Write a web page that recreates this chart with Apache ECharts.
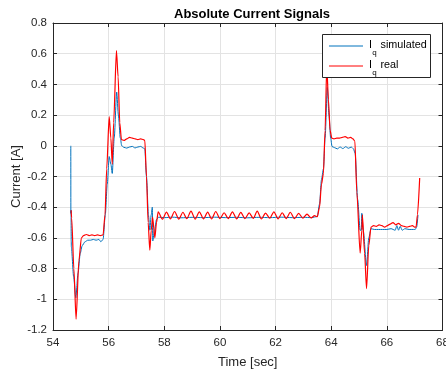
<!DOCTYPE html>
<html>
<head>
<meta charset="utf-8">
<script src="https://cdn.jsdelivr.net/npm/echarts@6/dist/echarts.min.js"></script>
<style>
html,body{margin:0;padding:0;background:#fff;}
#chart{width:446px;height:374px;}
</style>
</head>
<body>
<div id="chart"></div>
<script>
// ---- Data ----
const titleText = 'Absolute Current Signals';
const xName = 'Time [sec]';
const yName = 'Current [A]';
const xTicks = [54, 56, 58, 60, 62, 64, 66, 68];
const yTicks = [-1.2, -1, -0.8, -0.6, -0.4, -0.2, 0, 0.2, 0.4, 0.6, 0.8];

// I_q simulated
const tSim = [
  54.64, 54.642, 54.648, 54.655, 54.66, 54.74, 54.82, 54.9, 54.98, 55.05, 55.15, 55.25, 55.35, 55.45, 55.55, 55.65, 55.72, 55.8,
  55.88, 55.95, 56.02, 56.08, 56.13, 56.2, 56.29, 56.35, 56.42, 56.47, 56.55, 56.65, 56.75, 56.85, 56.95, 57.05, 57.15, 57.25, 57.3,
  57.36, 57.43, 57.48, 57.53, 57.57, 57.585, 57.65, 57.72, 57.8, 58.0, 58.3, 58.6, 59.0, 59.4, 59.8, 60.2, 60.6, 61.0, 61.4, 61.8,
  62.2, 62.6, 63.0, 63.3, 63.5, 63.58, 63.65, 63.72, 63.78, 63.86, 63.92, 63.98, 64.03, 64.12, 64.22, 64.32, 64.42, 64.52, 64.62,
  64.72, 64.8, 64.86, 64.95, 65.04, 65.08, 65.1, 65.15, 65.27, 65.35, 65.43, 65.55, 65.7, 65.85, 66.0, 66.15, 66.3, 66.36, 66.42,
  66.48, 66.55, 66.65, 66.8, 66.95, 67.02, 67.07, 67.12
];
const iqSim = [
  0.0, -0.44, -0.42, -0.62, -0.66, -0.85, -0.99, -0.83, -0.70, -0.65, -0.625, -0.615, -0.615, -0.61, -0.615, -0.61, -0.625, -0.61,
  -0.45, -0.25, -0.07, -0.12, -0.18, 0.05, 0.35, 0.2, 0.05, 0.0, -0.01, -0.015, -0.008, -0.004, -0.014, -0.008, -0.004, -0.015, -0.02,
  -0.2, -0.45, -0.55, -0.45, -0.40, -0.62, -0.55, -0.48, -0.465, -0.468, -0.465, -0.469, -0.466, -0.468, -0.465, -0.468, -0.466, -0.469, -0.466, -0.468,
  -0.465, -0.468, -0.466, -0.468, -0.46, -0.38, -0.22, -0.15, 0.05, 0.38, 0.2, 0.05, -0.005, -0.012, -0.02, -0.008, -0.018, -0.006, -0.016,
  -0.008, -0.02, -0.05, -0.35, -0.55, -0.55, -0.44, -0.55, -0.78, -0.6, -0.54, -0.545, -0.545, -0.545, -0.545, -0.54, -0.55, -0.52, -0.55,
  -0.525, -0.55, -0.54, -0.545, -0.545, -0.545, -0.53, -0.45
];

// I_q real
const tReal = [
  54.65, 54.67, 54.75, 54.83, 54.93, 55.02, 55.1, 55.2, 55.3, 55.4, 55.5, 55.6, 55.7, 55.8, 55.87, 55.93, 56.02, 56.08, 56.13, 56.18,
  56.28, 56.34, 56.4, 56.46, 56.55, 56.65, 56.75, 56.85, 56.95, 57.05, 57.15, 57.25, 57.3, 57.36, 57.42, 57.48, 57.53, 57.58, 57.66, 57.72,
  57.78, 57.93, 58.08, 58.22, 58.37, 58.52, 58.67, 58.81, 58.96, 59.11, 59.26, 59.41, 59.56, 59.70, 59.85, 60.00, 60.15, 60.30, 60.45, 60.60,
  60.75, 60.90, 61.05, 61.20, 61.34, 61.49, 61.64, 61.79, 61.94, 62.09, 62.24, 62.38, 62.53, 62.68, 62.83, 62.98, 63.13, 63.28, 63.40, 63.50,
  63.58, 63.65, 63.72, 63.78, 63.84, 63.9, 63.96, 64.02, 64.1, 64.2, 64.3, 64.4, 64.5, 64.6, 64.7, 64.78, 64.85, 64.92, 65.04, 65.1,
  65.12, 65.2, 65.27, 65.35, 65.43, 65.52, 65.62, 65.72, 65.82, 65.92, 66.02, 66.12, 66.22, 66.32, 66.42, 66.52, 66.62, 66.72, 66.82, 66.92,
  67.0, 67.05, 67.1, 67.18
];
const iqReal = [
  -0.42, -0.47, -0.8, -1.13, -0.75, -0.60, -0.585, -0.578, -0.585, -0.58, -0.585, -0.58, -0.585, -0.58, -0.45, -0.15, 0.19, 0.05, -0.12, 0.15,
  0.62, 0.45, 0.15, 0.04, 0.035, 0.045, 0.055, 0.05, 0.045, 0.04, 0.045, 0.04, 0.035, -0.2, -0.5, -0.68, -0.55, -0.465, -0.60, -0.50,
  -0.43, -0.478, -0.432, -0.476, -0.428, -0.478, -0.433, -0.475, -0.425, -0.478, -0.43, -0.476, -0.432, -0.477, -0.428, -0.475, -0.436, -0.474, -0.43, -0.476,
  -0.434, -0.475, -0.437, -0.473, -0.425, -0.477, -0.438, -0.472, -0.43, -0.476, -0.436, -0.474, -0.433, -0.475, -0.44, -0.472, -0.445, -0.47, -0.455, -0.462,
  -0.40, -0.25, -0.18, 0.1, 0.52, 0.3, 0.1, 0.05, 0.045, 0.05, 0.05, 0.055, 0.06, 0.05, 0.055, 0.045, 0.03, -0.3, -0.70, -0.55,
  -0.45, -0.7, -0.93, -0.65, -0.53, -0.52, -0.525, -0.515, -0.52, -0.53, -0.52, -0.51, -0.5, -0.515, -0.505, -0.52, -0.525, -0.53, -0.525, -0.52,
  -0.53, -0.53, -0.45, -0.21
];

const simData = tSim.map((t, i) => [t, iqSim[i]]);
const realData = tReal.map((t, i) => [t, iqReal[i]]);

const FONT = '"Liberation Sans", Arial, Helvetica, sans-serif';
const AX = '#262626';
const GRID = '#e3e3e3';
const fmt = v => String(+(+v).toFixed(1));

const chart = echarts.init(document.getElementById('chart'), null, {renderer: 'canvas'});
const xBase = {
  type: 'value', min: xTicks[0], max: xTicks[xTicks.length - 1], interval: 2,
  axisLine: {show: true, onZero: false, lineStyle: {color: AX, width: 1}},
  axisTick: {show: true, inside: true, length: 4, lineStyle: {color: AX}},
};
const yBase = {
  type: 'value', min: yTicks[0], max: yTicks[yTicks.length - 1], interval: 0.2,
  axisLine: {show: true, onZero: false, lineStyle: {color: AX, width: 1}},
  axisTick: {show: true, inside: true, length: 4, lineStyle: {color: AX}},
};
chart.setOption({
  animation: false,
  backgroundColor: '#fff',
  title: {
    text: titleText, left: 247, top: 3, textAlign: 'center',
    textStyle: {fontFamily: FONT, fontSize: 13, fontWeight: 'bold', color: '#000'}
  },
  grid: {left: 53, top: 23, width: 389.5, height: 307, containLabel: false, outerBoundsMode: 'none'},
  xAxis: [
    Object.assign({}, xBase, {
      position: 'bottom',
      axisLabel: {show: true, margin: 7, color: AX, fontFamily: FONT, fontSize: 11.5, formatter: fmt, showMinLabel: true, showMaxLabel: true},
      splitLine: {show: true, lineStyle: {color: GRID, width: 1}},
      name: xName, nameLocation: 'middle', nameGap: 26,
      nameTextStyle: {fontFamily: FONT, fontSize: 13, color: AX}
    }),
    Object.assign({}, xBase, {
      position: 'top',
      axisLabel: {show: false}, splitLine: {show: false}
    })
  ],
  yAxis: [
    Object.assign({}, yBase, {
      position: 'left',
      axisLabel: {show: true, margin: 6, color: AX, fontFamily: FONT, fontSize: 11.5, formatter: fmt, showMinLabel: true, showMaxLabel: true},
      splitLine: {show: true, lineStyle: {color: GRID, width: 1}},
      name: yName, nameLocation: 'middle', nameGap: 30, nameRotate: 90, nameMoveOverlap: false,
      nameTextStyle: {fontFamily: FONT, fontSize: 13, color: AX}
    }),
    Object.assign({}, yBase, {
      position: 'right',
      axisLabel: {show: false}, splitLine: {show: false}
    })
  ],
  series: [
    {
      name: 'Iq simulated', type: 'line', data: simData, xAxisIndex: 0, yAxisIndex: 0,
      showSymbol: false, symbol: 'none', clip: true, smooth: 0.25, smoothMonotone: 'x',
      lineStyle: {color: '#0072BD', width: 1}, itemStyle: {color: '#0072BD'}, z: 2
    },
    {
      name: 'Iq real', type: 'line', data: realData, xAxisIndex: 0, yAxisIndex: 0,
      showSymbol: false, symbol: 'none', clip: true, smooth: 0.25, smoothMonotone: 'x',
      lineStyle: {color: '#FF0000', width: 1.2}, itemStyle: {color: '#FF0000'}, z: 3
    }
  ],
  graphic: [
    {type: 'rect', z: 100, shape: {x: 322.5, y: 34.5, width: 108, height: 43},
      style: {fill: '#fff', stroke: AX, lineWidth: 1}},
    {type: 'line', z: 101, shape: {x1: 329, y1: 46, x2: 363, y2: 46}, style: {stroke: '#0072BD', lineWidth: 1}},
    {type: 'line', z: 101, shape: {x1: 329, y1: 66, x2: 363, y2: 66}, style: {stroke: '#FF0000', lineWidth: 1}},
    {type: 'text', z: 101, x: 369, y: 45.5, style: {text: 'I', font: '10.8px ' + FONT, fill: '#000', verticalAlign: 'middle'}},
    {type: 'text', z: 101, x: 372.3, y: 53, style: {text: 'q', font: '8px ' + FONT, fill: '#000', verticalAlign: 'middle'}},
    {type: 'text', z: 101, x: 380.5, y: 45.5, style: {text: 'simulated', font: '10.8px ' + FONT, fill: '#000', verticalAlign: 'middle'}},
    {type: 'text', z: 101, x: 369, y: 65.5, style: {text: 'I', font: '10.8px ' + FONT, fill: '#000', verticalAlign: 'middle'}},
    {type: 'text', z: 101, x: 372.3, y: 73, style: {text: 'q', font: '8px ' + FONT, fill: '#000', verticalAlign: 'middle'}},
    {type: 'text', z: 101, x: 380.5, y: 65.5, style: {text: 'real', font: '10.8px ' + FONT, fill: '#000', verticalAlign: 'middle'}}
  ]
});
</script>
</body>
</html>
